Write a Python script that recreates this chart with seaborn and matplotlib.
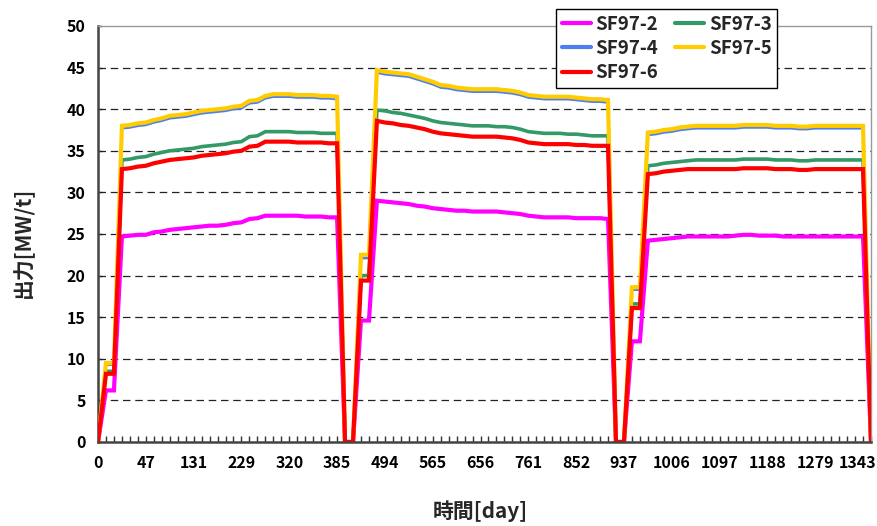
import matplotlib
matplotlib.use("Agg")
import matplotlib.pyplot as plt
import numpy as np
import pandas as pd
import seaborn as sns
from matplotlib.lines import Line2D
from matplotlib.transforms import ScaledTranslation

# ---------------- data ----------------
day_labels = ["0", "47", "131", "229", "320", "385", "494", "565", "656",
              "761", "852", "937", "1006", "1097", "1188", "1279", "1343"]

series_names = ["SF97-2", "SF97-3", "SF97-4", "SF97-5", "SF97-6"]

sf97_2 = ([0.0, 6.2, 6.2]
          + [24.7, 24.8, 24.9, 24.9, 25.2, 25.3, 25.5, 25.6, 25.7, 25.8,
             25.9, 26.0, 26.0, 26.1, 26.3, 26.4, 26.8, 26.9, 27.2, 27.2,
             27.2, 27.2, 27.2, 27.1, 27.1, 27.1, 27.0, 27.0]
          + [0.0, 0.0, 14.6, 14.6]
          + [29.0, 28.9, 28.8, 28.7, 28.6, 28.4, 28.3, 28.1, 28.0, 27.9,
             27.8, 27.8, 27.7, 27.7, 27.7, 27.7, 27.6, 27.5, 27.4, 27.2,
             27.1, 27.0, 27.0, 27.0, 27.0, 26.9, 26.9, 26.9, 26.9, 26.8]
          + [0.0, 0.0, 12.1, 12.1]
          + [24.2, 24.3, 24.4, 24.5, 24.6, 24.7, 24.7, 24.7, 24.7, 24.7,
             24.7, 24.8, 24.9, 24.9, 24.8, 24.8, 24.8, 24.7, 24.7, 24.7,
             24.7, 24.7, 24.7, 24.7, 24.7, 24.7, 24.7, 24.7]
          + [0.0])

sf97_3 = ([0.0, 8.5, 8.5]
          + [33.9, 34.0, 34.2, 34.3, 34.6, 34.8, 35.0, 35.1, 35.2, 35.3,
             35.5, 35.6, 35.7, 35.8, 36.0, 36.1, 36.7, 36.8, 37.3, 37.3,
             37.3, 37.3, 37.2, 37.2, 37.2, 37.1, 37.1, 37.1]
          + [0.0, 0.0, 20.0, 20.0]
          + [39.9, 39.8, 39.6, 39.5, 39.3, 39.1, 38.9, 38.6, 38.4, 38.3,
             38.2, 38.1, 38.0, 38.0, 38.0, 37.9, 37.9, 37.8, 37.6, 37.3,
             37.2, 37.1, 37.1, 37.1, 37.0, 37.0, 36.9, 36.8, 36.8, 36.8]
          + [0.0, 0.0, 16.6, 16.6]
          + [33.2, 33.3, 33.5, 33.6, 33.7, 33.8, 33.9, 33.9, 33.9, 33.9,
             33.9, 33.9, 34.0, 34.0, 34.0, 34.0, 33.9, 33.9, 33.9, 33.8,
             33.8, 33.9, 33.9, 33.9, 33.9, 33.9, 33.9, 33.9]
          + [0.0])

sf97_4 = ([0.0, 9.3, 9.3]
          + [37.7, 37.8, 38.0, 38.1, 38.4, 38.6, 38.9, 39.0, 39.1, 39.3,
             39.5, 39.6, 39.7, 39.8, 40.0, 40.1, 40.7, 40.8, 41.3, 41.5,
             41.5, 41.5, 41.4, 41.4, 41.4, 41.3, 41.3, 41.2]
          + [0.0, 0.0, 22.1, 22.1]
          + [44.4, 44.2, 44.1, 44.0, 43.9, 43.6, 43.3, 43.0, 42.6, 42.5,
             42.3, 42.2, 42.1, 42.1, 42.1, 42.1, 42.0, 41.9, 41.7, 41.4,
             41.3, 41.2, 41.2, 41.2, 41.2, 41.1, 41.0, 40.9, 40.9, 40.8]
          + [0.0, 0.0, 18.3, 18.3]
          + [36.9, 37.0, 37.2, 37.3, 37.5, 37.6, 37.7, 37.7, 37.7, 37.7,
             37.7, 37.7, 37.8, 37.8, 37.8, 37.8, 37.7, 37.7, 37.7, 37.6,
             37.6, 37.7, 37.7, 37.7, 37.7, 37.7, 37.7, 37.7]
          + [0.0])

sf97_5 = ([0.0, 9.5, 9.5]
          + [38.0, 38.1, 38.3, 38.4, 38.7, 38.9, 39.2, 39.3, 39.4, 39.6,
             39.8, 39.9, 40.0, 40.1, 40.3, 40.4, 41.0, 41.1, 41.6, 41.8,
             41.8, 41.8, 41.7, 41.7, 41.7, 41.6, 41.6, 41.5]
          + [0.0, 0.0, 22.5, 22.5]
          + [44.7, 44.5, 44.4, 44.3, 44.2, 43.9, 43.6, 43.3, 42.9, 42.8,
             42.6, 42.5, 42.4, 42.4, 42.4, 42.4, 42.3, 42.2, 42.0, 41.7,
             41.6, 41.5, 41.5, 41.5, 41.5, 41.4, 41.3, 41.2, 41.2, 41.1]
          + [0.0, 0.0, 18.6, 18.6]
          + [37.2, 37.3, 37.5, 37.6, 37.8, 37.9, 38.0, 38.0, 38.0, 38.0,
             38.0, 38.0, 38.1, 38.1, 38.1, 38.1, 38.0, 38.0, 38.0, 37.9,
             37.9, 38.0, 38.0, 38.0, 38.0, 38.0, 38.0, 38.0]
          + [0.0])

sf97_6 = ([0.0, 8.2, 8.2]
          + [32.8, 32.9, 33.1, 33.2, 33.5, 33.7, 33.9, 34.0, 34.1, 34.2,
             34.4, 34.5, 34.6, 34.7, 34.9, 35.0, 35.5, 35.6, 36.1, 36.1,
             36.1, 36.1, 36.0, 36.0, 36.0, 36.0, 35.9, 35.9]
          + [0.0, 0.0, 19.4, 19.4]
          + [38.6, 38.4, 38.3, 38.1, 38.0, 37.8, 37.6, 37.3, 37.1, 37.0,
             36.9, 36.8, 36.7, 36.7, 36.7, 36.7, 36.6, 36.5, 36.3, 36.0,
             35.9, 35.8, 35.8, 35.8, 35.8, 35.7, 35.7, 35.6, 35.6, 35.6]
          + [0.0, 0.0, 16.1, 16.1]
          + [32.2, 32.3, 32.5, 32.6, 32.7, 32.8, 32.8, 32.8, 32.8, 32.8,
             32.8, 32.8, 32.9, 32.9, 32.9, 32.9, 32.8, 32.8, 32.8, 32.7,
             32.7, 32.8, 32.8, 32.8, 32.8, 32.8, 32.8, 32.8]
          + [0.0])

series_values = [sf97_2, sf97_3, sf97_4, sf97_5, sf97_6]

# ---------------- style ----------------
colors = {"SF97-2": "#FF00FF", "SF97-3": "#339966", "SF97-4": "#4F7FEF",
          "SF97-5": "#FFCC00", "SF97-6": "#FF0000"}
widths = {"SF97-2": 3.0, "SF97-3": 2.6, "SF97-4": 1.8,
          "SF97-5": 3.0, "SF97-6": 3.0}

sns.set_theme(style="white")
plt.rcParams["font.family"] = ["Noto Sans CJK JP", "DejaVu Sans"]
plt.rcParams["font.weight"] = "bold"

rows = []
for name, vals in zip(series_names, series_values):
    for i, v in enumerate(vals):
        rows.append({"idx": i, "value": v, "series": name})
df = pd.DataFrame(rows)
n = len(sf97_2)

W, H = 878, 526
fig = plt.figure(figsize=(W / 100, H / 100), dpi=100)
ax = fig.add_axes([98 / W, 1 - 442 / H, (871 - 98) / W, (442 - 26) / H])

# gridlines
for yv in range(5, 50, 5):
    ax.axhline(yv, color="#222222", lw=0.9, linestyle=(0, (6, 3.8)), zorder=1)

for name in series_names:
    sns.lineplot(data=df[df["series"] == name], x="idx", y="value",
                 color=colors[name], linewidth=widths[name], ax=ax,
                 legend=False, zorder=3, solid_joinstyle="miter")

ax.set_xlim(0, n - 1)
ax.set_ylim(0, 50)
ax.set_yticks(range(0, 51, 5))
major_pos = list(range(0, n, 6))[:len(day_labels)]
ax.set_xticks(major_pos)
ax.set_xticklabels(day_labels)
ax.set_xticks(range(n), minor=True)
ax.tick_params(axis="x", which="both", direction="in", length=4, width=1,
               color="#333333", pad=9, labelsize=11.5, bottom=True)
ax.tick_params(axis="y", which="both", direction="in", length=3, width=1,
               color="#333333", pad=9, labelsize=11.5, left=True)
for lab in ax.get_xticklabels() + ax.get_yticklabels():
    lab.set_fontweight("bold")
    lab.set_color("black")
# keep the last x label inside the canvas
last = ax.get_xticklabels()[-1]
last.set_transform(last.get_transform()
                   + ScaledTranslation(-5 / 100, 0, fig.dpi_scale_trans))
ax.set_xlabel("")
ax.set_ylabel("")

for side in ["top", "right"]:
    ax.spines[side].set_color("#999999")
    ax.spines[side].set_linewidth(1.0)
for side in ["left", "bottom"]:
    ax.spines[side].set_color("#444444")
    ax.spines[side].set_linewidth(1.8)
ax.spines["bottom"].set_zorder(5)

fig.text(480 / W, 1 - 511 / H, "時間[day]", ha="center", va="center",
         fontsize=15, fontweight="bold")
fig.text(23 / W, 1 - 242 / H, "出力[MW/t]", ha="center", va="center",
         rotation=90, fontsize=15, fontweight="bold")

# legend in row order: 2,3 / 4,5 / 6 (column-major filling)
leg_order = ["SF97-2", "SF97-4", "SF97-6", "SF97-3", "SF97-5"]
handles = [Line2D([0], [0], color=colors[nm], lw=3.0) for nm in leg_order]
leg = fig.legend(handles, leg_order, ncol=2, loc="upper left",
                 bbox_to_anchor=(556 / W, 1 - 9 / H), borderaxespad=0,
                 frameon=True, fancybox=False, framealpha=1,
                 edgecolor="black", handlelength=1.55,
                 handletextpad=0.25, columnspacing=0.9, labelspacing=0.28,
                 borderpad=0.3, prop={"weight": "bold", "size": 13.5})
leg.get_frame().set_linewidth(1.0)

fig.savefig("out.png", dpi=100)
